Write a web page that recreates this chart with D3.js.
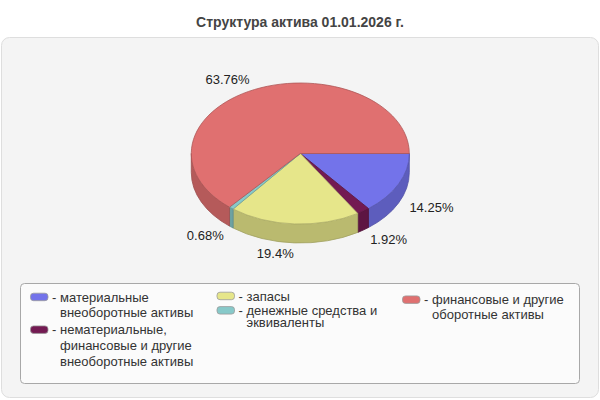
<!DOCTYPE html>
<html>
<head>
<meta charset="utf-8">
<script src="https://cdn.jsdelivr.net/npm/d3@7"></script>
<style>
    body { margin: 0; background: #fff; }
    svg text { font-family: "Liberation Sans", Arial, sans-serif; }
</style>
</head>
<body>
<div id="chart"></div>
<script>

// Data
const title = 'Структура актива 01.01.2026 г.';
const categories = [
    'материальные внеоборотные активы',
    'нематериальные, финансовые и другие внеоборотные активы',
    'запасы',
    'денежные средства и эквиваленты',
    'финансовые и другие оборотные активы'
];
const shares = [14.25, 1.92, 19.4, 0.68, 63.76];
const shareLabels = ['14.25%', '1.92%', '19.4%', '0.68%', '63.76%'];

const palette = ['#7373ea', '#731a52', '#e6e68a', '#87c9c9', '#e07070'];

const width = 600;
const height = 400;

const svg = d3.select('#chart').append('svg')
    .attr('width', width)
    .attr('height', height);

// Background panel
svg.append('rect')
    .attr('x', 1.5).attr('y', 37.5)
    .attr('width', 597).attr('height', 360)
    .attr('rx', 8)
    .attr('fill', '#f4f4f4')
    .attr('stroke', '#dedede');

svg.append('text')
    .attr('x', 300).attr('y', 27)
    .attr('text-anchor', 'middle')
    .attr('font-size', 14)
    .attr('font-weight', 'bold')
    .attr('fill', '#444')
    .text(title);

// 3D pie
let cx = 300.3, cy = 153.5, rx = 109, ry = 70.5, depth = 19;

let color = d3.scaleOrdinal().domain(categories).range(palette);

let pie = d3.pie().sort(null)
    .startAngle(Math.PI / 2)
    .endAngle(Math.PI / 2 + 2 * Math.PI);

let arcs = pie(shares).map((d, i) => ({
    name: categories[i],
    label: shareLabels[i],
    a0: d.startAngle - Math.PI / 2,
    a1: d.endAngle - Math.PI / 2
}));

function px(a) { return cx + rx * Math.cos(a); }
function py(a) { return cy + ry * Math.sin(a); }

let pieG = svg.append('g');

// side walls (only the front half is visible)
arcs.forEach(function(d) {
    let s0 = Math.max(d.a0, 0);
    let s1 = Math.min(d.a1, Math.PI);
    if (s1 <= s0) return;
    let c = d3.color(color(d.name));
    let side = c.darker(0.6);
    let path = `M${px(s0)},${py(s0)}` +
        ` A${rx},${ry} 0 0 1 ${px(s1)},${py(s1)}` +
        ` L${px(s1)},${py(s1) + depth}` +
        ` A${rx},${ry} 0 0 0 ${px(s0)},${py(s0) + depth} Z`;
    pieG.append('path')
        .attr('d', path)
        .attr('fill', side)
        .attr('stroke', side.darker(0.4))
        .attr('stroke-width', 0.8);
});

// top faces
arcs.forEach(function(d) {
    let c = d3.color(color(d.name));
    let large = (d.a1 - d.a0) > Math.PI ? 1 : 0;
    let path = `M${cx},${cy} L${px(d.a0)},${py(d.a0)}` +
        ` A${rx},${ry} 0 ${large} 1 ${px(d.a1)},${py(d.a1)} Z`;
    pieG.append('path')
        .attr('d', path)
        .attr('fill', c)
        .attr('stroke', c.darker(0.7))
        .attr('stroke-width', 0.8)
        .attr('stroke-linejoin', 'round');
});

// percent labels
arcs.forEach(function(d) {
    let m = (d.a0 + d.a1) / 2;
    let lx = cx + (rx + 12) * Math.cos(m);
    let ly = cy + (ry + 11) * Math.sin(m) + (Math.sin(m) > 0 ? depth : 0);
    pieG.append('text')
        .attr('x', lx)
        .attr('y', ly + 4.5)
        .attr('text-anchor', Math.cos(m) > 0 ? 'start' : 'end')
        .attr('font-size', 13)
        .attr('fill', '#222')
        .text(d.label);
});

// Legend
svg.append('rect')
    .attr('x', 20.5).attr('y', 283.5)
    .attr('width', 559).attr('height', 100)
    .attr('rx', 4)
    .attr('fill', '#fbfbfb')
    .attr('stroke', '#a8a8a8');

let colX = [30.5, 217, 402.5];
let colTop = [301.7, 300.7, 304.4];
let lineH = [15.7, 11.7, 14.7];
let itemGap = [17, 14.4, 17];
let maxW = 145;

let legend = svg.append('g');
let colY = colTop.slice();

categories.forEach(function(name, i) {
    let col = Math.floor(i / 2);
    let x = colX[col];
    let y = colY[col];
    let g = legend.append('g');

    g.append('rect')
        .attr('x', x).attr('y', y - 8.5)
        .attr('width', 17.5).attr('height', 7.5)
        .attr('rx', 3)
        .attr('fill', color(name))
        .attr('stroke', '#9a9a9a')
        .attr('stroke-width', 0.8);

    g.append('text')
        .attr('x', x + 21.5).attr('y', y)
        .attr('font-size', 13)
        .attr('fill', '#333')
        .text('-');

    // word wrap
    let words = name.split(' ');
    let lines = [];
    let cur = '';
    let probe = g.append('text').attr('font-size', 13);
    words.forEach(function(w) {
        let test = cur ? cur + ' ' + w : w;
        probe.text(test);
        if (cur && probe.node().getComputedTextLength() > maxW) {
            lines.push(cur);
            cur = w;
        } else {
            cur = test;
        }
    });
    lines.push(cur);
    probe.remove();

    lines.forEach(function(l, k) {
        g.append('text')
            .attr('x', x + 29.5)
            .attr('y', y + k * lineH[col])
            .attr('font-size', 13)
            .attr('fill', '#333')
            .text(l);
    });

    colY[col] = y + (lines.length - 1) * lineH[col] + itemGap[col];
});

</script>
</body>
</html>
